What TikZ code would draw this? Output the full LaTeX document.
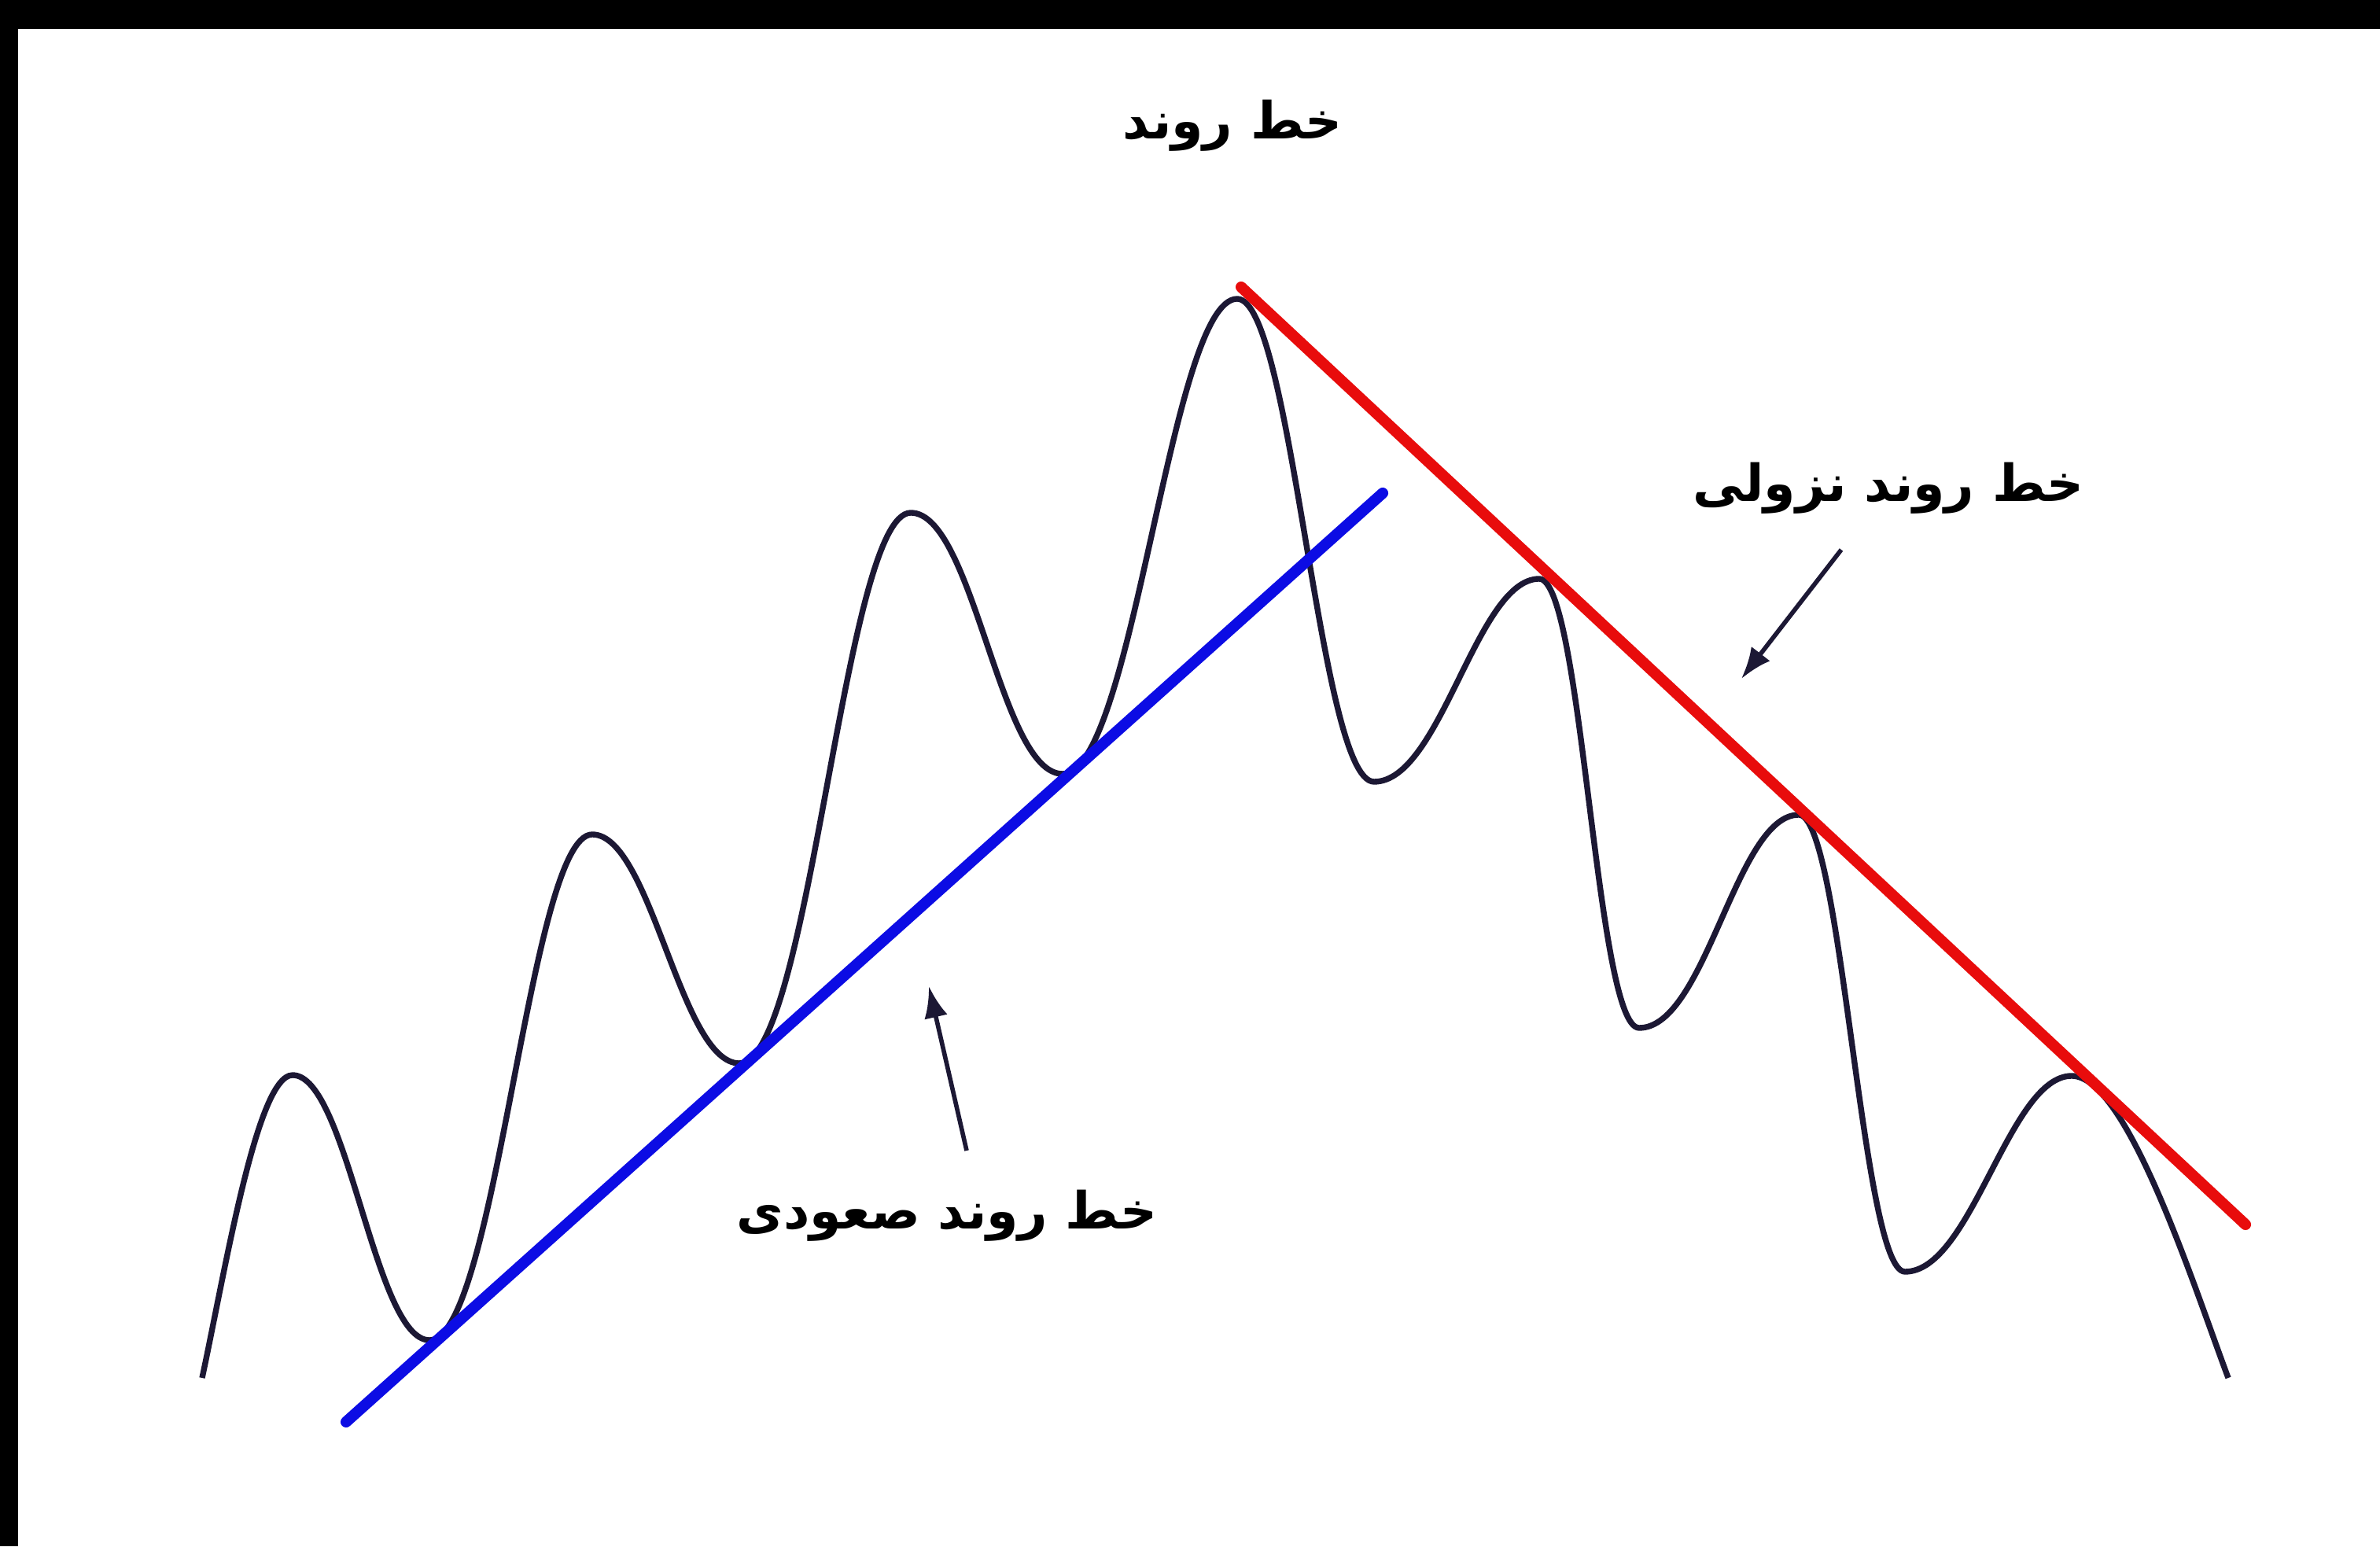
\documentclass[tikz,border=0pt]{standalone}
\usepackage{fontspec}
\newfontfamily\farsi[Script=Arabic]{DejaVu Sans}
\TeXXeTstate=1
\usetikzlibrary{arrows.meta,positioning}

\definecolor{pricecol}{RGB}{28,24,52}
\definecolor{upblue}{RGB}{12,12,228}
\definecolor{downred}{RGB}{232,12,12}

\begin{document}
\begin{tikzpicture}[
    lbl/.style={
        font=\farsi\bfseries\fontsize{18.5}{22}\selectfont,
        text=black,
        inner sep=2pt
    },
    price/.style={draw=pricecol, line width=2.1pt},
    upline/.style={draw=upblue, line width=4pt, line cap=round},
    downline/.style={draw=downred, line width=4pt, line cap=round},
    pointer/.style={-{Latex[length=4mm,width=3mm]}, draw=pricecol, line width=1.6pt}
]
    %% Frame
    \useasboundingbox (0,0) rectangle (30.26,19.66);
    \fill[white] (0,0) rectangle (30.26,19.66);
    \fill[black] (0,19.29) rectangle (30.26,19.66);
    \fill[black] (0,0) rectangle (0.23,19.66);

    %% Price swings
    \coordinate (p0) at (2.57,2.14);
    \coordinate (p1) at (3.72,5.99);
    \coordinate (p2) at (5.46,2.62);
    \coordinate (p3) at (7.53,9.05);
    \coordinate (p4) at (9.40,6.14);
    \coordinate (p5) at (11.58,13.14);
    \coordinate (p6) at (13.51,9.82);
    \coordinate (p7) at (15.73,15.86);
    \coordinate (p8) at (17.47,9.72);
    \coordinate (p9) at (19.57,12.30);
    \coordinate (p10) at (20.84,6.59);
    \coordinate (p11) at (22.87,9.30);
    \coordinate (p12) at (24.22,3.49);
    \coordinate (p13) at (26.34,5.98);
    \coordinate (p14) at (28.33,2.14);

    \draw[price] (p0) .. controls +(0.3,1.4) and +(-0.45,0) .. (p1)
        .. controls +(0.7,0) and +(-0.7,0) .. (p2)
        .. controls +(0.85,0) and +(-0.8,0) .. (p3)
        .. controls +(0.75,0) and +(-0.75,0) .. (p4)
        .. controls +(0.9,0) and +(-0.85,0) .. (p5)
        .. controls +(0.8,0) and +(-0.8,0) .. (p6)
        .. controls +(0.9,0) and +(-0.85,0) .. (p7)
        .. controls +(0.7,0) and +(-0.7,0) .. (p8)
        .. controls +(0.85,0) and +(-0.8,0) .. (p9)
        .. controls +(0.55,0) and +(-0.55,0) .. (p10)
        .. controls +(0.85,0) and +(-0.8,0) .. (p11)
        .. controls +(0.55,0) and +(-0.55,0) .. (p12)
        .. controls +(0.85,0) and +(-0.8,0) .. (p13)
        .. controls +(0.7,0) and +(-0.45,1.2) .. (p14);

    %% Trend lines
    \coordinate (upstart) at (4.40,1.58);
    \coordinate (upend) at (17.58,13.39);
    \coordinate (downstart) at (15.78,16.01);
    \coordinate (downend) at (28.55,4.09);
    \draw[upline] (upstart) -- (upend);
    \draw[downline] (downstart) -- (downend);

    %% Labels
    \node[lbl] (title) at (15.67,18.06) {\beginR خط روند\endR};
    \node[lbl] (downlbl) at (24.01,13.45) {\beginR خط روند نزولی\endR};
    \node[lbl] (uplbl) at (12.04,4.20) {\beginR خط روند صعودی\endR};

    %% Pointers
    \coordinate (downtip) at (22.14,11.03);
    \coordinate (uptip) at (11.81,7.12);
    \draw[pointer] ([shift={(-0.60,-0.78)}]downlbl.center) -- (downtip);
    \draw[pointer] ([shift={(0.25,0.83)}]uplbl.center) -- (uptip);
\end{tikzpicture}
\end{document}
